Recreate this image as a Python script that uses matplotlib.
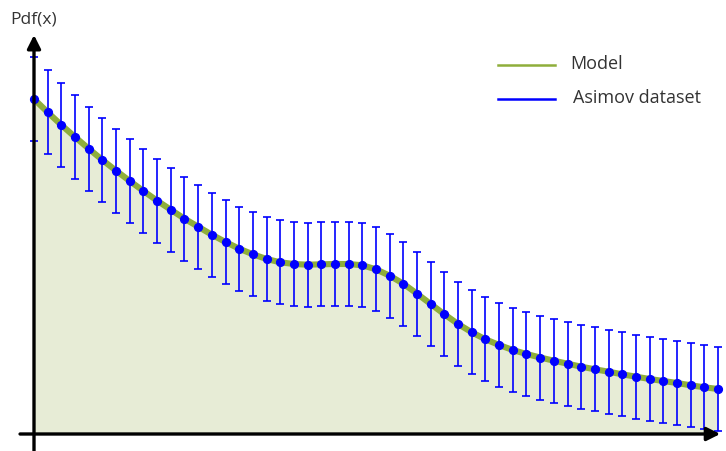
import numpy as np
import matplotlib
matplotlib.use("Agg")
import matplotlib.pyplot as plt
from matplotlib.lines import Line2D

plt.rcParams['font.family'] = ['Open Sans', 'DejaVu Sans']

# bin index and model / Asimov values (arbitrary units)
bins = np.arange(51)
pdf = np.array([3.35, 3.217, 3.09, 2.97, 2.853, 2.74, 2.633, 2.53, 2.43, 2.333,
                2.243, 2.153, 2.073, 1.993, 1.92, 1.853, 1.797, 1.75, 1.717, 1.70,
                1.693, 1.697, 1.70, 1.70, 1.687, 1.647, 1.583, 1.503, 1.403, 1.30,
                1.197, 1.10, 1.017, 0.947, 0.89, 0.84, 0.80, 0.765, 0.733, 0.703,
                0.673, 0.647, 0.623, 0.597, 0.573, 0.55, 0.53, 0.51, 0.487, 0.467,
                0.45])
err = np.full(len(bins), 0.42)

labels = ["Model", "Asimov dataset"]

fig = plt.figure(figsize=(7.26, 4.51), dpi=100)
ax = fig.add_axes([0, 0, 1, 1])
ax.set_xlim(-34 / 13.68, (726 - 34) / 13.68)
ax.set_ylim(-0.17, 4.34)
ax.axis("off")

green = "#8fae3b"
fill = "#e7ecd6"
blue = "#0000ff"

ax.fill_between(bins, 0, pdf, color=fill, lw=0, zorder=1)
ax.plot(bins, pdf, color=green, lw=4.4, solid_capstyle="butt", zorder=2)
ax.errorbar(bins, pdf, yerr=err, fmt="o", color=blue, ms=5.6, elinewidth=1.2,
            capsize=3.2, capthick=1.2, zorder=3)

# axes arrows
ax.annotate("", xy=(0, 3.99), xytext=(0, -0.2),
            arrowprops=dict(arrowstyle="-|>", lw=2.4, color="black",
                            mutation_scale=20, shrinkA=0, shrinkB=0), zorder=4)
ax.annotate("", xy=(50.16, 0), xytext=(-1.02, 0),
            arrowprops=dict(arrowstyle="-|>", lw=2.4, color="black",
                            mutation_scale=20, shrinkA=0, shrinkB=0), zorder=4)

fig.text(10 / 726, 1 - 19 / 451, "Pdf(x)", fontsize=12.5, color="#333333",
         ha="left", va="center")

# legend
for lab, col, yy, xt in [(labels[0], green, 65, 570), (labels[1], blue, 99, 573)]:
    fig.add_artist(Line2D([498 / 726, 555 / 726], [1 - yy / 451, 1 - yy / 451],
                          color=col, lw=1.8))
    fig.text(xt / 726, 1 - (yy - 1) / 451, lab, fontsize=13, color="#333333",
             ha="left", va="center")

fig.savefig("out.png", dpi=100)
